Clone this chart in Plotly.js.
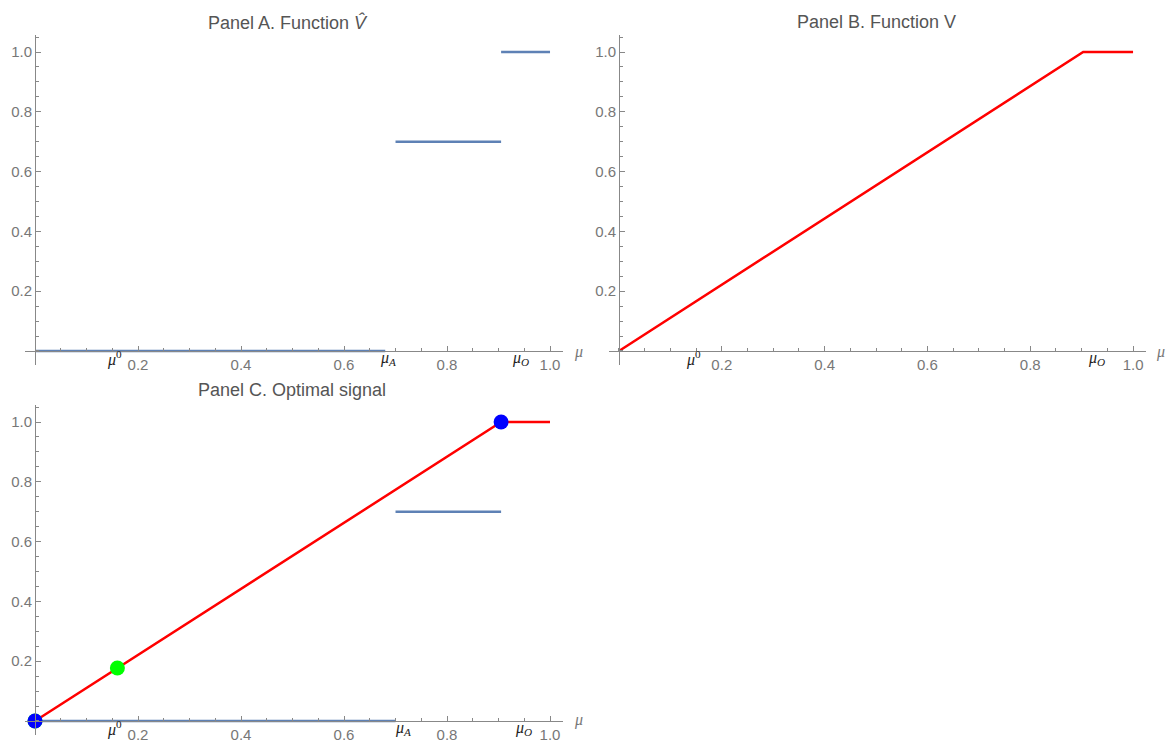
<!DOCTYPE html>
<html>
<head>
<meta charset="utf-8">
<script src="https://cdn.plot.ly/plotly-3.0.1.min.js"></script>
<style>html,body{margin:0;padding:0;background:#fff;}#chart{width:1174px;height:748px;}</style>
</head>
<body>
<div id="chart"></div>
<script>
// ---- data ----
const mu0 = 0.16;          // prior
const muA = 0.70;          // threshold A
const muO = 0.905;         // threshold O
// Panel A: step function V-hat
const hatLowX = [0, 0.68];
const hatLowY = [0, 0];
const hatMidX = [0.70, 0.905];
const hatMidY = [0.7, 0.7];
const hatTopX = [0.905, 1.0];
const hatTopY = [1.0, 1.0];
// Panel B: concave envelope V
const vX = [0, 0.903, 1.0];
const vY = [0, 1.0, 1.0];
// Panel C: optimal signal
const cLowX = [0, 0.70];
const cLowY = [0, 0];
const cMidX = [0.70, 0.905];
const cMidY = [0.7, 0.7];
const cRedX = [0, 0.905, 1.0];
const cRedY = [0, 1.0, 1.0];
const greenX = [0, 0.16];
const greenY = [0, 0.177];
const blueX = [0, 0.905];
const blueY = [0, 1.0];
// tick labels
const tickVals = [0.2, 0.4, 0.6, 0.8, 1.0];
const tickText = ['0.2', '0.4', '0.6', '0.8', '1.0'];

const BLUE = '#5E81B5', RED = '#FF0000';
const W = 1174, H = 748;

function seg(x, y, color, xa, ya) {
  return {x: x, y: y, mode: 'lines', type: 'scatter', xaxis: xa, yaxis: ya,
    line: {color: color, width: 2.5}, hoverinfo: 'skip', showlegend: false};
}
function pts(x, y, color, xa, ya) {
  return {x: x, y: y, mode: 'markers', type: 'scatter', xaxis: xa, yaxis: ya, cliponaxis: false,
    marker: {color: color, size: 15}, hoverinfo: 'skip', showlegend: false};
}

const traces = [
  seg(hatLowX, hatLowY, BLUE, 'x', 'y'),
  seg(hatMidX, hatMidY, BLUE, 'x', 'y'),
  seg(hatTopX, hatTopY, BLUE, 'x', 'y'),
  seg(vX, vY, RED, 'x2', 'y2'),
  seg(cLowX, cLowY, BLUE, 'x3', 'y3'),
  seg(cMidX, cMidY, BLUE, 'x3', 'y3'),
  seg(cRedX, cRedY, RED, 'x3', 'y3'),
  pts(greenX, greenY, '#00FF00', 'x3', 'y3'),
  pts(blueX, blueY, '#0000FF', 'x3', 'y3')
];

const tickFont = {family: 'Liberation Sans, Arial, sans-serif', size: 15, color: '#777'};
function xa(domain, pos) {
  return {domain: domain, range: [-0.02, 1.025], anchor: 'free', position: pos,
    showgrid: false, zeroline: false, showline: true, linecolor: '#888', linewidth: 1,
    ticks: 'inside', ticklen: 5, tickcolor: '#888', tickwidth: 1,
    tickmode: 'array', tickvals: tickVals, ticktext: tickText, tickfont: tickFont,
    minor: {tickmode: 'linear', tick0: 0, dtick: 0.05, ticks: 'inside', ticklen: 3, tickcolor: '#888'},
    fixedrange: true};
}
function ya(domain, pos) {
  return {domain: domain, range: [-0.047, 1.057], anchor: 'free', position: pos,
    showgrid: false, zeroline: false, showline: true, linecolor: '#888', linewidth: 1,
    ticks: 'inside', ticklen: 5, tickcolor: '#888', tickwidth: 1,
    tickmode: 'array', tickvals: tickVals, ticktext: tickText, tickfont: tickFont,
    minor: {tickmode: 'linear', tick0: 0, dtick: 0.05, ticks: 'inside', ticklen: 3, tickcolor: '#888'},
    fixedrange: true};
}

const xDomL = [24.7 / W, 562.9 / W];
const xDomR = [608.7 / W, 1145.9 / W];
const yDomT = [1 - 365 / H, 1 - 35 / H];
const yDomB = [1 - 735 / H, 1 - 405 / H];

const muFont = {family: 'Liberation Serif, DejaVu Serif, serif', size: 16, color: '#222'};
function muLabel(text, x, xref, yref) {
  return {text: text, x: x, y: -0.025, xref: xref, yref: yref,
    showarrow: false, font: muFont, xanchor: 'center', yanchor: 'middle'};
}
function muAxis(px, py) {
  return {text: '<i>μ</i>', x: px / W, y: 1 - py / H, xref: 'paper', yref: 'paper',
    showarrow: false, font: {family: 'Liberation Serif, DejaVu Serif, serif', size: 16, color: '#777'},
    xanchor: 'center', yanchor: 'middle'};
}
const titleFont = {family: 'Liberation Sans, Arial, sans-serif', size: 18, color: '#555'};

const annotations = [
  {text: 'Panel A. Function <i>V̂</i>', x: 288 / W, y: 1 - 22 / H, xref: 'paper', yref: 'paper',
    showarrow: false, font: titleFont, xanchor: 'center', yanchor: 'middle'},
  {text: 'Panel B. Function V', x: 876 / W, y: 1 - 22 / H, xref: 'paper', yref: 'paper',
    showarrow: false, font: titleFont, xanchor: 'center', yanchor: 'middle'},
  {text: 'Panel C. Optimal signal', x: 292 / W, y: 1 - 390 / H, xref: 'paper', yref: 'paper',
    showarrow: false, font: titleFont, xanchor: 'center', yanchor: 'middle'},
  // panel A
  muLabel('<i>μ</i><sup>0</sup>', 0.155, 'x', 'y'),
  muLabel('<i>μ<sub>A</sub></i>', 0.685, 'x', 'y'),
  muLabel('<i>μ<sub>O</sub></i>', 0.942, 'x', 'y'),
  muAxis(578, 352),
  // panel B
  muLabel('<i>μ</i><sup>0</sup>', 0.144, 'x2', 'y2'),
  muLabel('<i>μ<sub>O</sub></i>', 0.928, 'x2', 'y2'),
  muAxis(1160, 352),
  // panel C
  muLabel('<i>μ</i><sup>0</sup>', 0.155, 'x3', 'y3'),
  muLabel('<i>μ<sub>A</sub></i>', 0.715, 'x3', 'y3'),
  muLabel('<i>μ<sub>O</sub></i>', 0.948, 'x3', 'y3'),
  muAxis(578, 720)
];

const layout = {
  width: W, height: H, margin: {l: 0, r: 0, t: 0, b: 0},
  paper_bgcolor: '#fff', plot_bgcolor: 'rgba(0,0,0,0)', showlegend: false,
  xaxis: xa(xDomL, 1 - 351 / H), yaxis: ya(yDomT, 35 / W),
  xaxis2: xa(xDomR, 1 - 351 / H), yaxis2: ya(yDomT, 619 / W),
  xaxis3: xa(xDomL, 1 - 721 / H), yaxis3: ya(yDomB, 35 / W),
  annotations: annotations
};

Plotly.newPlot('chart', traces, layout, {displayModeBar: false, staticPlot: true});
</script>
</body>
</html>
